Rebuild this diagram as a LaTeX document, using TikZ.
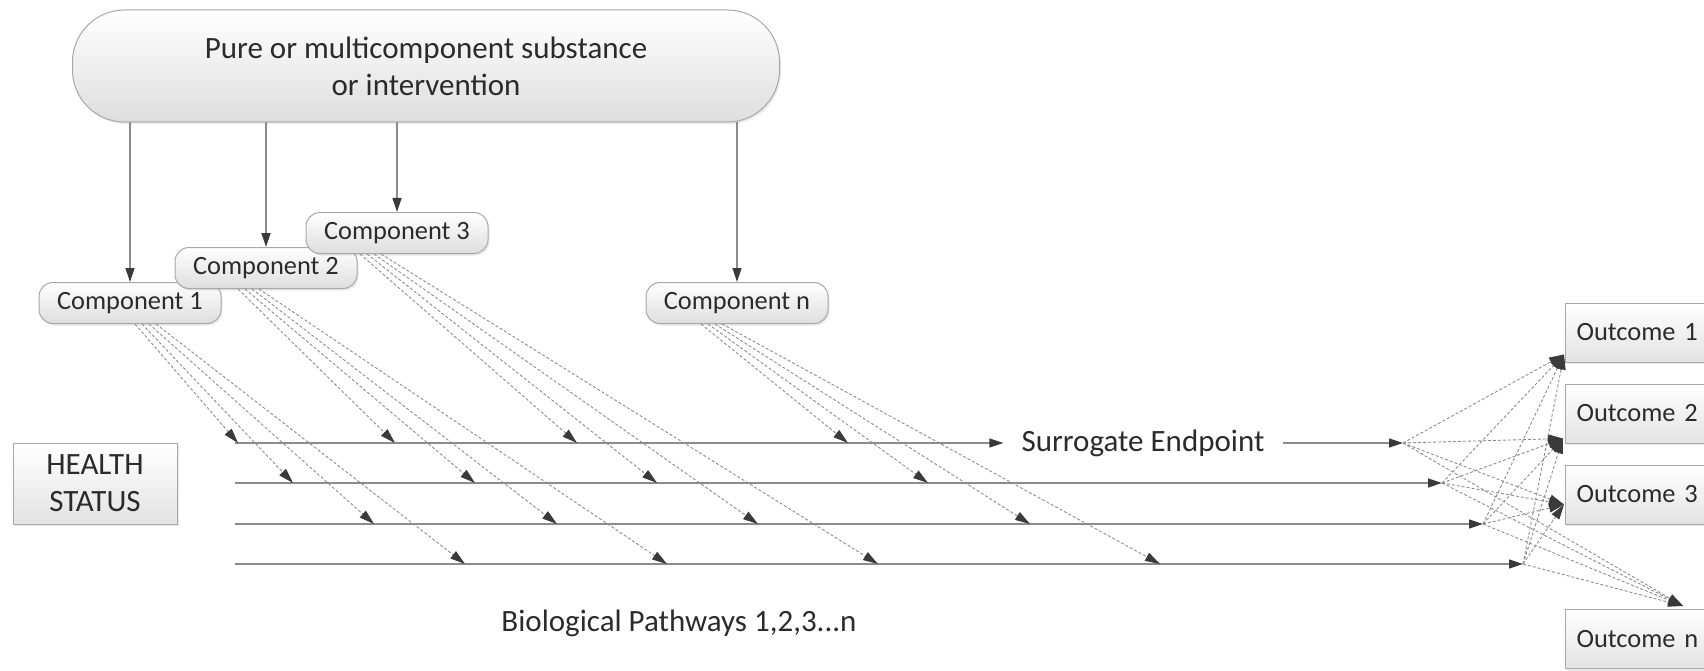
\documentclass[tikz,border=0pt]{standalone}
\usepackage{fontspec}
\setmainfont{Carlito}
\usetikzlibrary{arrows.meta,shadows,calc}

\definecolor{txtgray}{HTML}{2B2B2B}
\definecolor{linegray}{HTML}{8C8C8C}
\definecolor{tipgray}{HTML}{3A3A3A}
\definecolor{boxgray}{HTML}{A8A8A8}

\newcommand{\bigtext}{\fontsize{31}{37}\selectfont}
\newcommand{\smalltext}{\fontsize{26.4}{31}\selectfont}

\begin{document}
\begin{tikzpicture}[x=1pt,y=-1pt,
	arr/.style={draw=linegray, line width=1.3pt, -{Triangle[length=14pt,width=9pt,color=tipgray]}},
	dsh/.style={draw=linegray, line width=0.9pt, dash pattern=on 3pt off 2pt, -{Triangle[length=15pt,width=9pt,color=tipgray]}},
	comp/.style={draw=boxgray, line width=1pt, rounded corners=14pt, top color=white, bottom color=black!13,
		minimum width=182pt, minimum height=41pt, inner sep=0pt, font=\smalltext, text=txtgray,
		drop shadow={shadow xshift=1.5pt, shadow yshift=-2pt, opacity=0.18}},
	sqbox/.style={draw=boxgray, line width=1pt, top color=white, bottom color=black!11, inner sep=0pt, text=txtgray,
		drop shadow={shadow xshift=1.5pt, shadow yshift=-2pt, opacity=0.18}}]
	\useasboundingbox (0,0) rectangle (1704,671);
	\clip (0,0) rectangle (1704,671);
	
	%substance
	\node[comp, rounded corners=52pt, minimum width=707pt, minimum height=112pt, font=\bigtext, align=center] (sub) at (426,66) {Pure or multicomponent substance\\or intervention};
	
	%components
	\node[comp] (c1) at (130,303) {Component 1};
	\node[comp] (c2) at (266,268) {Component 2};
	\node[comp] (c3) at (397,233) {Component 3};
	\node[comp] (cn) at (737,303) {Component n};
	\foreach \c in {c1,c2,c3,cn}{
		\draw[arr] (\c.north |- sub.south) -- (\c);
	}
	
	%health status + pathways
	\node[sqbox, minimum width=164pt, minimum height=81pt, font=\bigtext, align=center] (health) at (95,483.5) {HEALTH\\STATUS};
	\node[font=\bigtext, text=txtgray, inner xsep=18pt, inner ysep=0pt] (sur) at (1143,443) {Surrogate Endpoint};
	\node[font=\bigtext, text=txtgray] (bio) at (679,623) {Biological Pathways 1,2,3...n};
	
	\coordinate (s1) at (235,443);
	\coordinate (s2) at (235,483);
	\coordinate (s3) at (235,524);
	\coordinate (s4) at (235,564);
	\coordinate (p1) at (1403,443);
	\coordinate (p2) at (1442,483);
	\coordinate (p3) at (1483,524);
	\coordinate (p4) at (1523,564);
	\draw[arr] (s1) -- (sur);
	\draw[arr] (sur) -- (p1);
	\draw[arr] (s2) -- (p2);
	\draw[arr] (s3) -- (p3);
	\draw[arr] (s4) -- (p4);
	
	%component -> pathway
	\foreach \c/\dx/\ta/\tb/\tc/\td in {c1/5/238/293/374/465,c2/-28/395/475/557/667,c3/-37/577/657/758/878,cn/-36/848/928/1030/1160}{
		\coordinate (\c-1) at (\ta,443);
		\coordinate (\c-2) at (\tb,483);
		\coordinate (\c-3) at (\tc,524);
		\coordinate (\c-4) at (\td,564);
		\draw[dsh] ([xshift=\dx pt]\c.south) -- (\c-1);
		\draw[dsh] ([xshift=\dx pt+7pt]\c.south) -- (\c-2);
		\draw[dsh] ([xshift=\dx pt+14pt]\c.south) -- (\c-3);
		\draw[dsh] ([xshift=\dx pt+21pt]\c.south) -- (\c-4);
	}
	
	%outcomes
	\node[sqbox, anchor=west, minimum height=59pt, text width=178pt, inner xsep=11pt, align=left, font=\smalltext] (o1) at (1565,332.5) {Outcome 1};
	\node[sqbox, anchor=west, minimum height=59pt, text width=178pt, inner xsep=11pt, align=left, font=\smalltext] (o2) at (1565,413.5) {Outcome 2};
	\node[sqbox, anchor=west, minimum height=59pt, text width=178pt, inner xsep=11pt, align=left, font=\smalltext] (o3) at (1565,494.5) {Outcome 3};
	\node[sqbox, anchor=west, minimum height=59pt, text width=178pt, inner xsep=11pt, align=left, font=\smalltext] (on) at (1565,639) {Outcome n};
	
	\coordinate (t1) at ([shift={(-1pt,8pt)}]o1.south west);
	\coordinate (t2) at ([shift={(-2pt,5pt)}]o2.south west);
	\coordinate (t3) at ([shift={(-1pt,-10pt)}]o3.west);
	\coordinate (tn) at ([shift={(118pt,3pt)}]on.north west);
	\foreach \p in {p1,p2,p3,p4}{
		\foreach \t in {t1,t2,t3,tn}{
			\draw[dsh] (\p) -- (\t);
		}
	}
\end{tikzpicture}
\end{document}
